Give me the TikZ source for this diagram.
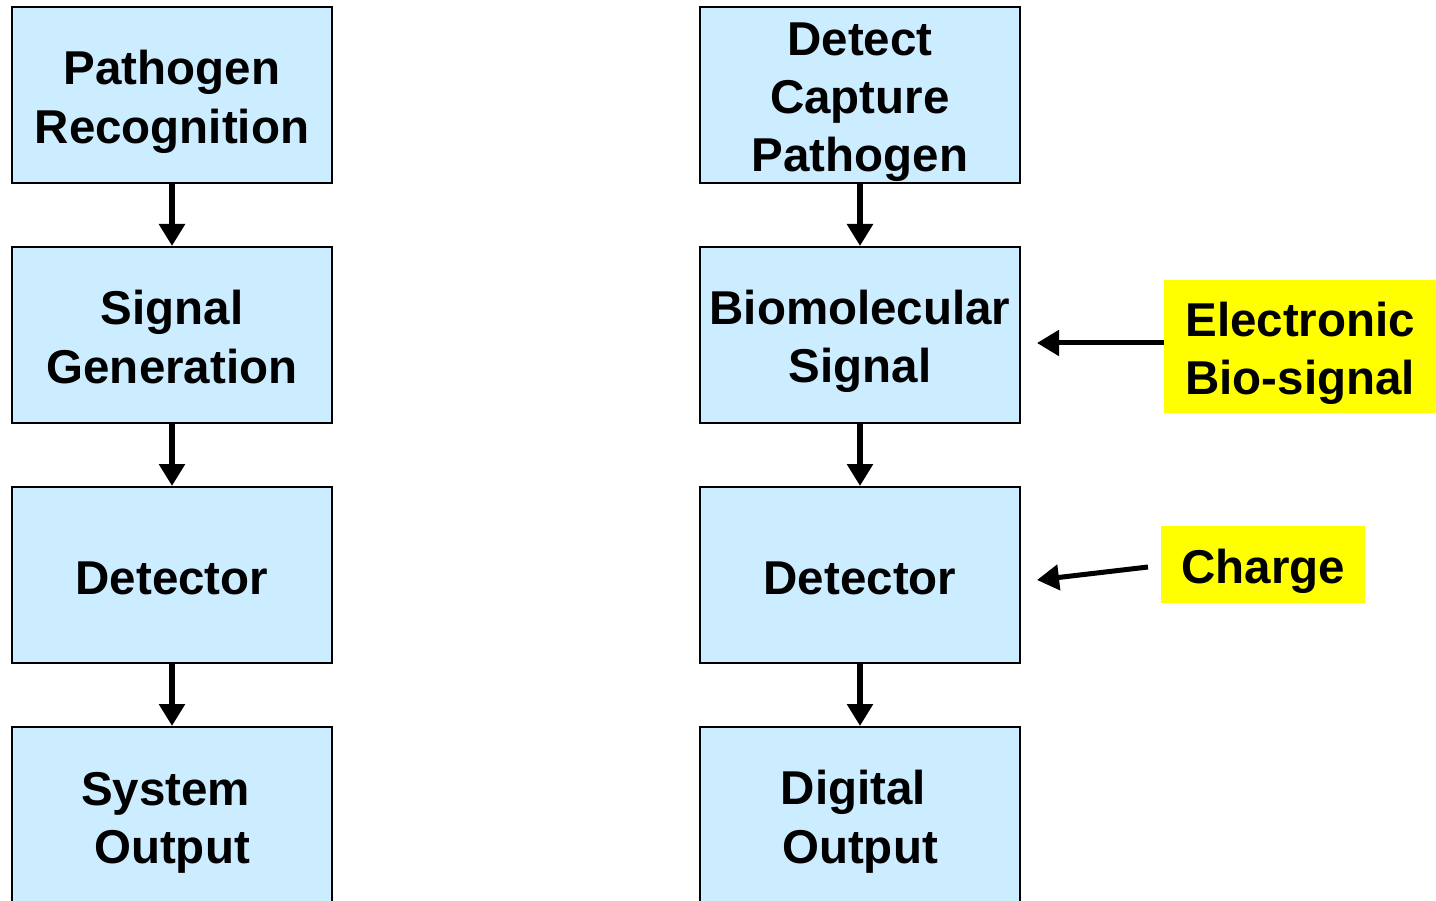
\documentclass[tikz,border=0pt]{standalone}
\usepackage{fontspec}
\setmainfont{Liberation Sans}
\usetikzlibrary{arrows.meta}
\definecolor{boxblue}{HTML}{CCECFF}
\definecolor{hlyellow}{HTML}{FFFF00}
\newcommand\lstrut{\rule[-10pt]{0pt}{58pt}}
\begin{document}
\begin{tikzpicture}[x=1pt,y=-1pt,
  flowbox/.style={draw=black,line width=2pt,fill=boxblue,minimum width=320pt,minimum height=176pt,
    inner sep=0pt,align=center,font=\fontsize{47.5}{58}\selectfont\bfseries},
  hlbox/.style={fill=hlyellow,inner ysep=0pt,anchor=north west,align=left,
    font=\fontsize{47.5}{58}\selectfont\bfseries},
  flowarrow/.style={line width=6pt,-{Triangle[length=22pt,width=25pt]}},
  sidearrow/.style={line width=5pt,-{Triangle[length=22pt,width=25pt]}}]
\useasboundingbox (0,0) rectangle (1436,901);
% left column
\node[flowbox] (l1) at (172,95) {\lstrut Pathogen\\\lstrut Recognition};
\node[flowbox] (l2) at (172,335) {\lstrut Signal\\\lstrut Generation};
\node[flowbox] (l3) at (172,575) {\lstrut Detector};
\node[flowbox] (l4) at (172,815) {\lstrut System\kern13pt\lstrut\\\lstrut Output};
% right column
\node[flowbox] (r1) at (860,95) {\lstrut Detect\\\lstrut Capture\\\lstrut Pathogen};
\node[flowbox] (r2) at (860,335) {\lstrut Biomolecular\\\lstrut Signal};
\node[flowbox] (r3) at (860,575) {\lstrut Detector};
\node[flowbox] (r4) at (860,815) {\lstrut Digital\kern13pt\lstrut\\\lstrut Output};
% highlighted labels
\node[hlbox,inner xsep=21pt,minimum width=272pt,minimum height=133pt] (eb) at (1164,280) {\lstrut Electronic\\\lstrut Bio-signal};
\node[hlbox,inner xsep=0pt,minimum width=204pt,minimum height=77pt,align=center] (ch) at (1161,526) {\lstrut Charge};
\coordinate (ebt) at (1037,343);
\coordinate (chs) at (1148,567);
\coordinate (cht) at (1037,580);
% arrows
\draw[flowarrow] (l1.south) -- (l2.north);
\draw[flowarrow] (l2.south) -- (l3.north);
\draw[flowarrow] (l3.south) -- (l4.north);
\draw[flowarrow] (r1.south) -- (r2.north);
\draw[flowarrow] (r2.south) -- (r3.north);
\draw[flowarrow] (r3.south) -- (r4.north);
\draw[sidearrow] (eb.west |- ebt) -- (ebt);
\draw[sidearrow] (chs) -- (cht);
\end{tikzpicture}
\end{document}
